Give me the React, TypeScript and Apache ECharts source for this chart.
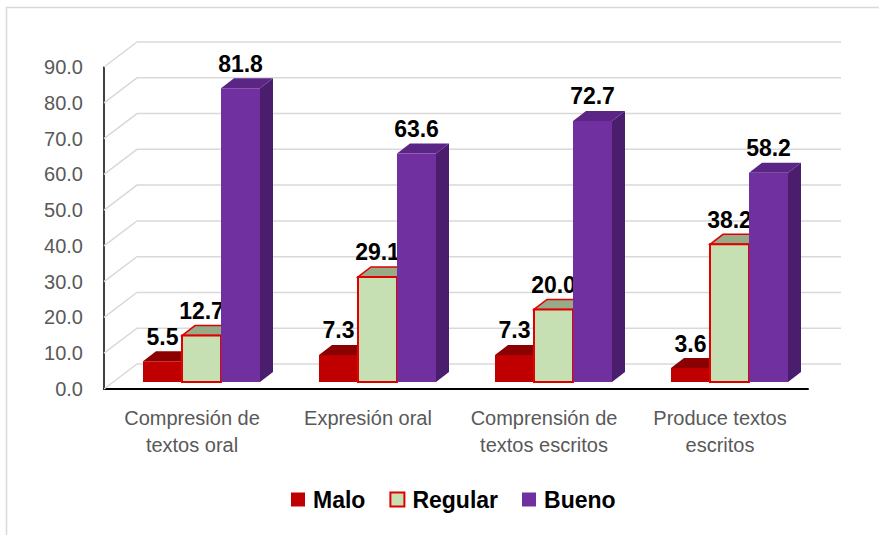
import React, { useEffect, useRef } from "react";
import * as echarts from "echarts";

const categories = [
  "Compresión de\ntextos oral",
  "Expresión oral",
  "Comprensión de\ntextos escritos",
  "Produce textos\nescritos",
];
const seriesNames = ["Malo", "Regular", "Bueno"];
const malo = [5.5, 7.3, 7.3, 3.6];
const regular = [12.7, 29.1, 20.0, 38.2];
const bueno = [81.8, 63.6, 72.7, 58.2];
const yTicks = [0, 10, 20, 30, 40, 50, 60, 70, 80, 90];

const FONT = "'Liberation Sans', Arial, sans-serif";
// 3D projection offsets
const WALL_DX = 33;
const WALL_DY = -25;
const FRONT_DX = 9.5;
const FRONT_DY = -7;
const BAR_DX = 13;
const BAR_DY = -10;

type BarStyle = { front: string; top: string; side: string; stroke?: string };
const styles: BarStyle[] = [
  { front: "#C00000", top: "#8B0000", side: "#8E0000" },
  { front: "#C6E0B4", top: "#97AB89", side: "#8FA283", stroke: "#E00000" },
  { front: "#7030A0", top: "#5A2585", side: "#4A1E6C" },
];

function barRender(pos: number, st: BarStyle) {
  return (params: any, api: any) => {
    const c = api.value(0);
    const v = api.value(1);
    const base = api.coord([c, 0]);
    const topP = api.coord([c, v]);
    const band = api.size([1, 0])[0];
    const barW = (band * 39) / 176;
    const x0 = base[0] - (barW * 3) / 2 + pos * barW + FRONT_DX;
    const yB = base[1] + FRONT_DY;
    const yT = topP[1] + FRONT_DY - 1;
    const lw = st.stroke ? 2 : 0;
    const children: any[] = [
      {
        type: "polygon",
        shape: {
          points: [
            [x0 + barW, yT],
            [x0 + barW + BAR_DX, yT + BAR_DY],
            [x0 + barW + BAR_DX, yB + BAR_DY],
            [x0 + barW, yB],
          ],
        },
        style: { fill: st.side, stroke: st.stroke || null, lineWidth: lw ? 1 : 0 },
      },
      {
        type: "polygon",
        shape: {
          points: [
            [x0, yT],
            [x0 + BAR_DX, yT + BAR_DY],
            [x0 + barW + BAR_DX, yT + BAR_DY],
            [x0 + barW, yT],
          ],
        },
        style: { fill: st.top, stroke: st.stroke || null, lineWidth: lw ? 1.5 : 0 },
      },
      {
        type: "rect",
        shape: { x: x0, y: yT, width: barW, height: yB - yT },
        style: { fill: st.front, stroke: st.stroke || null, lineWidth: lw },
      },
      {
        type: "text",
        x: x0 + barW / 2,
        y: yT + BAR_DY - 3,
        style: {
          text: v.toFixed(1),
          align: "center",
          verticalAlign: "bottom",
          fill: "#000000",
          font: `bold 23px ${FONT}`,
        },
      },
    ];
    return { type: "group", children };
  };
}

function gridRender(params: any, api: any) {
  const cs = params.coordSys;
  const v = api.value(1);
  const y = api.coord([0, v])[1];
  const left = cs.x;
  const right = cs.x + cs.width;
  return {
    type: "polyline",
    shape: {
      points: [
        [left, y],
        [left + WALL_DX, y + WALL_DY],
        [right + WALL_DX, y + WALL_DY],
      ],
    },
    style: { fill: null, stroke: "#D9D9D9", lineWidth: 1.5 },
  };
}

export default function App() {
  const ref = useRef<HTMLDivElement>(null);
  useEffect(() => {
    document.body.style.margin = "0";
    const chart = echarts.init(ref.current!, null, { renderer: "svg" });
    const seriesData = [malo, regular, bueno];
    chart.setOption({
      animation: false,
      backgroundColor: "#FFFFFF",
      graphic: [
        {
          type: "rect",
          shape: { x: 6.5, y: 7.5, width: 900, height: 600 },
          style: { fill: null, stroke: "#D9D9D9", lineWidth: 1.5 },
          z: -10,
        },
      ],
      grid: { left: 104, right: 71, top: 67, bottom: 146 },
      xAxis: {
        type: "category",
        data: categories,
        axisLine: { show: true, lineStyle: { color: "#000000", width: 2 } },
        axisTick: { show: false },
        axisLabel: {
          interval: 0,
          color: "#595959",
          fontFamily: FONT,
          fontSize: 20,
          lineHeight: 27,
          margin: 15,
        },
        splitLine: { show: false },
      },
      yAxis: {
        type: "value",
        min: 0,
        max: 90,
        interval: 10,
        axisLine: { show: true, lineStyle: { color: "#000000", width: 1.5 } },
        axisTick: { show: false },
        splitLine: { show: false },
        axisLabel: {
          color: "#595959",
          fontFamily: FONT,
          fontSize: 20,
          margin: 21,
          formatter: (v: number) => v.toFixed(1),
        },
      },
      legend: {
        left: 291,
        top: 488,
        padding: 0,
        itemWidth: 14,
        itemHeight: 14,
        itemGap: 24,
        textStyle: {
          color: "#000000",
          fontFamily: FONT,
          fontWeight: "bold",
          fontSize: 23,
          padding: [0, 0, 0, 3],
        },
        data: [
          { name: "Malo", icon: "rect", itemStyle: { color: styles[0].front } },
          {
            name: "Regular",
            icon: "rect",
            itemStyle: { color: styles[1].front, borderColor: "#E00000", borderWidth: 2 },
          },
          { name: "Bueno", icon: "rect", itemStyle: { color: styles[2].front } },
        ],
      },
      series: [
        {
          type: "custom",
          name: "grid",
          z: 1,
          silent: true,
          clip: false,
          renderItem: gridRender,
          data: yTicks.map((t) => [0, t]),
        },
        ...seriesNames.map((name, i) => ({
          type: "custom",
          name,
          z: 3 + i,
          clip: false,
          itemStyle: { color: styles[i].front },
          renderItem: barRender(i, styles[i]),
          data: seriesData[i].map((v, j) => [j, v]),
        })),
      ],
    });
    return () => chart.dispose();
  }, []);
  return <div ref={ref} style={{ width: 879, height: 535 }} />;
}
